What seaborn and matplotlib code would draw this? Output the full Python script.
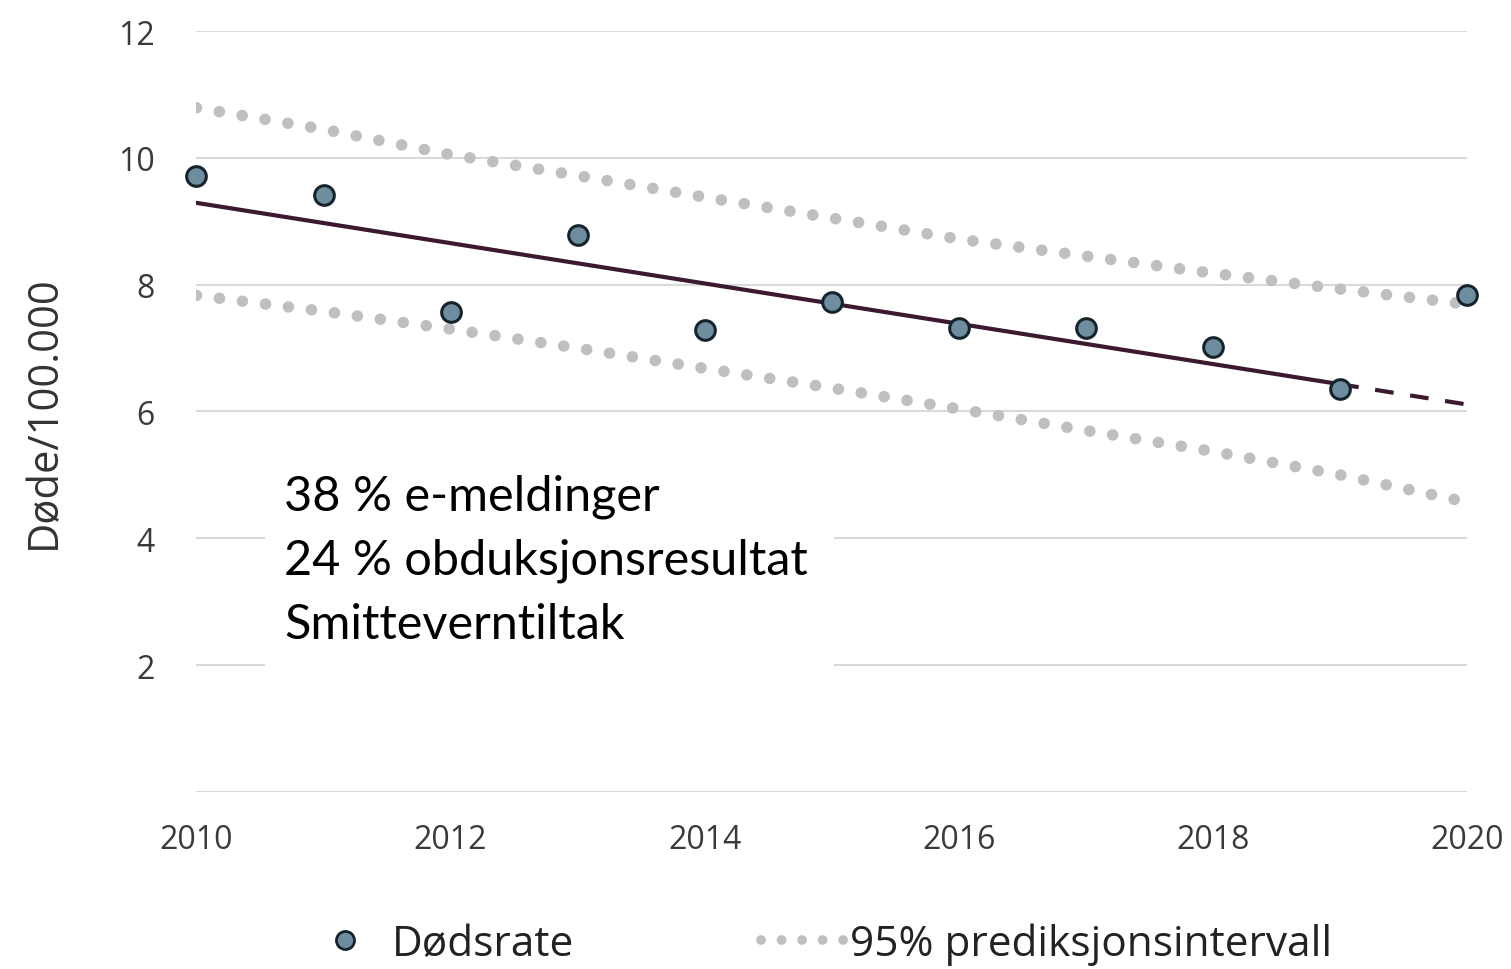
import matplotlib

matplotlib.use("Agg")
import matplotlib.pyplot as plt
import pandas as pd
import seaborn as sns
from matplotlib.lines import Line2D
from matplotlib.patches import Rectangle

# data
years = [2010, 2011, 2012, 2013, 2014, 2015, 2016, 2017, 2018, 2019, 2020]
death_rate = [9.72, 9.42, 7.57, 8.79, 7.28, 7.72, 7.31, 7.31, 7.01, 6.36, 7.83]
trend_years = [2010, 2019]
trend_vals = [9.29, 6.43]
forecast_years = [2019, 2020]
forecast_vals = [6.43, 6.11]
pi_upper = [10.79, 10.45, 10.05, 9.72, 9.38, 9.05, 8.72, 8.45, 8.18, 7.93, 7.69]
pi_lower = [7.83, 7.58, 7.30, 7.00, 6.68, 6.37, 6.04, 5.70, 5.37, 5.00, 4.57]
y_ticks = [2, 4, 6, 8, 10, 12]
x_ticks = [2010, 2012, 2014, 2016, 2018, 2020]
note_lines = ["38 % e-meldinger", "24 % obduksjonsresultat", "Smitteverntiltak"]

df = pd.DataFrame({"year": years, "rate": death_rate, "upper": pi_upper, "lower": pi_lower})

sns.set_style("white")
plt.rcParams["font.family"] = ["Open Sans", "DejaVu Sans"]

fig = plt.figure(figsize=(15.11, 9.70), dpi=100)
ax = fig.add_axes([0.130, 0.1825, 0.841, 0.7845])

ax.set_xlim(2010, 2020)
ax.set_ylim(0, 12)
for y in [0] + y_ticks:
    ax.axhline(y, color="#d9d9d9", lw=1.5, zorder=0)

dots = (0, (0.01, 2.0))
dot_kw = dict(color="#bfbfbf", lw=8.3, linestyle=dots, dash_capstyle="round", zorder=1)
ax.plot(df["year"], df["upper"], **dot_kw)
ax.plot(df["year"], df["lower"], **dot_kw)

sns.lineplot(x=trend_years, y=trend_vals, ax=ax, color="#3b1a2f", lw=3, zorder=2)
sns.lineplot(x=forecast_years, y=forecast_vals, ax=ax, color="#3b1a2f", lw=3,
             linestyle=(0, (4.5, 4)), zorder=2)

sns.scatterplot(data=df, x="year", y="rate", ax=ax, s=200, color="#6e8e9f",
                edgecolor="#15232b", linewidth=2.2, zorder=3, clip_on=False)

# white box behind the note
ax.add_patch(Rectangle((2010.54, 1.78), 4.48, 3.32, facecolor="white",
                       edgecolor="none", zorder=1.5))
ax.text(2010.69, 5.02, "\n".join(note_lines), fontsize=35, family=["Lato", "DejaVu Sans"],
        color="black", va="top", ha="left", linespacing=1.55, zorder=4)

for s in ax.spines.values():
    s.set_visible(False)
ax.set_xticks(x_ticks)
ax.set_yticks(y_ticks)
ax.tick_params(axis="both", length=0, labelsize=23, colors="#3a3a3a")
ax.tick_params(axis="x", pad=22)
ax.tick_params(axis="y", pad=30)
ax.set_xlabel("")
ax.set_ylabel("Døde/100.000", fontsize=30, color="#333333", labelpad=38)

handles = [
    Line2D([], [], marker="o", linestyle="none", markersize=13,
           markerfacecolor="#6e8e9f", markeredgecolor="#15232b", markeredgewidth=2),
    Line2D([], [], color="#bfbfbf", lw=7, linestyle=(0, (0.01, 2.1)), dash_capstyle="round"),
]
fig.legend(handles, ["Dødsrate", "95% prediksjonsintervall"], loc="center",
           bbox_to_anchor=(0.541, 0.026), ncol=2, frameon=False, fontsize=30.5,
           handlelength=2.0, handletextpad=0.1, columnspacing=4.4,
           labelcolor="#222222")

fig.savefig("out.png", dpi=100)
